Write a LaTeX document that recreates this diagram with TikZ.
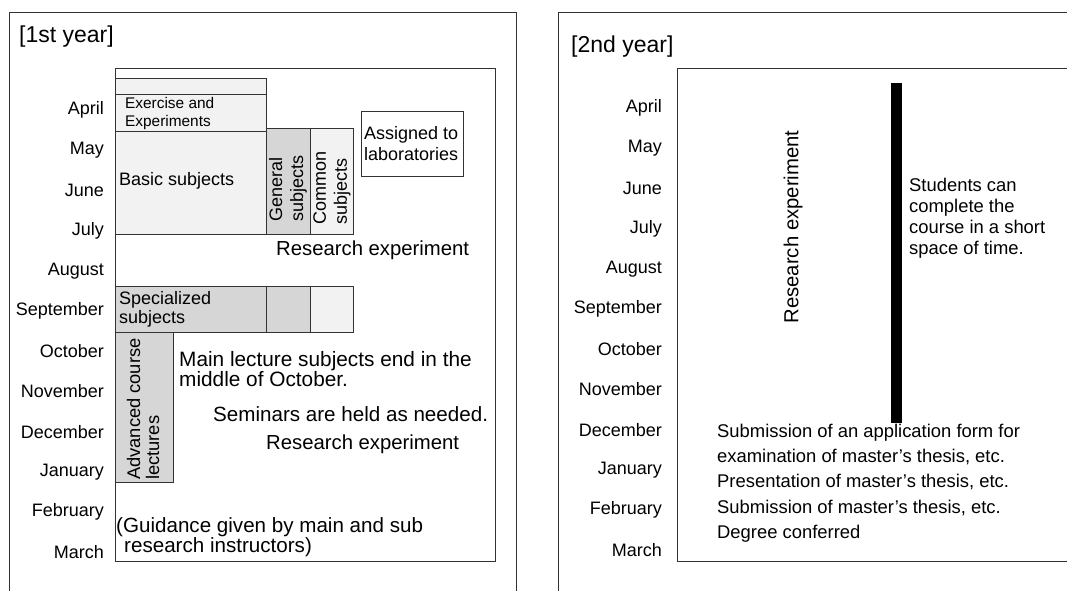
\documentclass[tikz,border=0pt]{standalone}
\usepackage{fontspec}
\setmainfont{Liberation Sans}
\begin{document}
\begin{tikzpicture}[x=1pt,y=-1pt,
        frame/.style={draw=black!80,line width=1pt},
        lightbox/.style={draw=black!80,line width=1pt,fill=black!5},
        darkbox/.style={draw=black!80,line width=1pt,fill=black!16},
        month/.style={anchor=east,inner sep=0pt,font=\fontsize{18}{21}\selectfont},
        txt/.style={anchor=west,inner sep=0pt,align=left}]
    \useasboundingbox (0,0) rectangle (1067,590);
    \clip (0,0) rectangle (1067,590);
    \fill[white] (0,0) rectangle (1067,590);

    % first year
    \draw[frame] (9,600) |- (516,12) -- (516,600);
    \node[txt,font=\fontsize{23}{27}\selectfont] (title1) at (19,37) {[1st year]};
    \draw[frame] (115,68) rectangle (495,561);
    \foreach \m [count=\i from 0] in {April,May,June,July,August,September,October,November,December,January,February,March}
        \node[month] (ma\i) at ({104},{110+40.2*\i}) {\m};

    \draw[lightbox] (115,78) rectangle (266,94);
    \draw[lightbox] (115,94) rectangle (266,131);
    \draw[lightbox] (115,131) rectangle (266,234);
    \draw[darkbox] (266,128) rectangle (310,234);
    \draw[lightbox] (310,128) rectangle (353,234);
    \draw[frame,fill=white] (361,111) rectangle (463,176);
    \draw[darkbox] (115,286) rectangle (266,332);
    \draw[darkbox] (266,286) rectangle (310,332);
    \draw[lightbox] (310,286) rectangle (353,332);
    \draw[darkbox] (115,332) rectangle (173,482);

    \node[txt,font=\fontsize{15.4}{18}\selectfont] (exer) at (125,114) {Exercise and\\Experiments};
    \node[txt,font=\fontsize{18}{21}\selectfont] (basic) at (119,181) {Basic subjects};
    \node[rotate=90,anchor=west,inner sep=0pt,align=left,font=\fontsize{18}{21}\selectfont] (gen) at (288,222) {General\\subjects};
    \node[rotate=90,anchor=west,inner sep=0pt,align=left,font=\fontsize{18}{21}\selectfont] (com) at (332,225) {Common\\subjects};
    \node[txt,font=\fontsize{18}{21}\selectfont] (lab) at (364,144) {Assigned to\\laboratories};
    \node[txt,font=\fontsize{20.3}{24}\selectfont] (res1) at (276,250) {Research experiment};
    \node[txt,font=\fontsize{18}{19}\selectfont] (spec) at (119,309) {Specialized\\subjects};
    \node[rotate=90,anchor=west,inner sep=0pt,align=left,font=\fontsize{18.3}{19}\selectfont] (adv) at (143,480) {Advanced course\\lectures};
    \node[txt,font=\fontsize{20.8}{19}\selectfont] (main) at (179,369) {Main lecture subjects end in the\\middle of October.};
    \node[txt,font=\fontsize{20.6}{24}\selectfont] (sem) at (213,414) {Seminars are held as needed.};
    \node[txt,font=\fontsize{20.3}{24}\selectfont] (res2) at (266,444) {Research experiment};
    \node[txt,font=\fontsize{20.6}{19}\selectfont] (guide) at (116,537) {(Guidance given by main and sub\\\hspace*{8pt}research instructors)};

    % second year
    \draw[frame] (558,600) |- (1080,12);
    \node[txt,font=\fontsize{23}{27}\selectfont] (title2) at (571,47) {[2nd year]};
    \draw[frame] (677,68) rectangle (1080,561);
    \foreach \m [count=\i from 0] in {April,May,June,July,August,September,October,November,December,January,February,March}
        \node[month] (mb\i) at ({662},{108+40.2*\i}) {\m};

    \fill[black] (891,83) rectangle (902,423);
    \node[rotate=90,inner sep=0pt,font=\fontsize{20.3}{24}\selectfont] (res3) at (793,227) {Research experiment};
    \node[txt,font=\fontsize{18.4}{21}\selectfont] (short) at (909,218) {Students can\\complete the\\course in a short\\space of time.};
    \node[txt,font=\fontsize{18.4}{22}\selectfont] (appl) at (717,433) {Submission of an application form for};
    \node[txt,font=\fontsize{18.4}{22}\selectfont] (exam) at (717,457) {examination of master’s thesis, etc.};
    \node[txt,font=\fontsize{18.4}{22}\selectfont] (pres) at (717,482) {Presentation of master’s thesis, etc.};
    \node[txt,font=\fontsize{18.4}{22}\selectfont] (subm) at (717,508) {Submission of master’s thesis, etc.};
    \node[txt,font=\fontsize{18.4}{22}\selectfont] (degr) at (717,534) {Degree conferred};
\end{tikzpicture}
\end{document}
